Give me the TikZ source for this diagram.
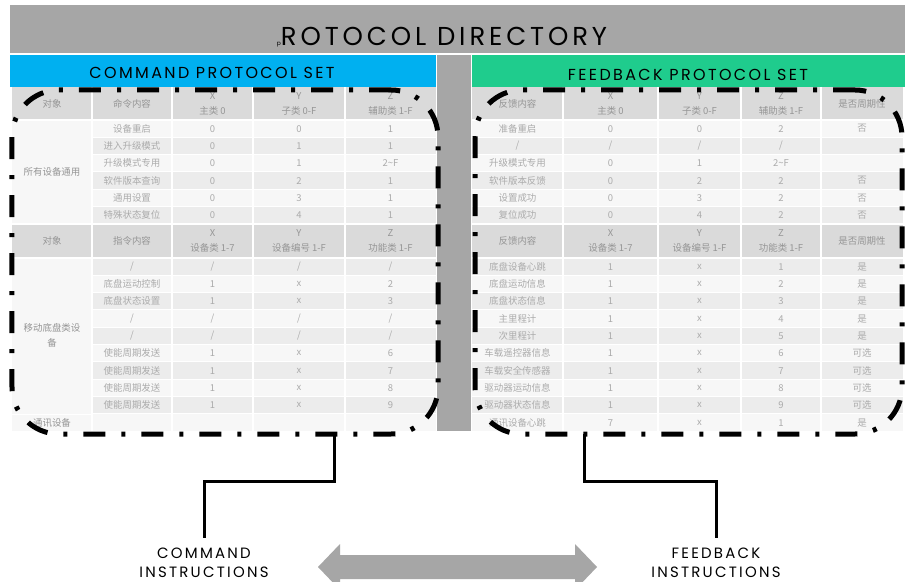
\documentclass[tikz,border=0pt]{standalone}
\usepackage{fontspec}
\setmainfont{Poppins}
\newfontfamily\widefont[LetterSpace = 15]{Poppins}
\newfontfamily\cjk{Noto Sans CJK SC}

\definecolor{bargray}{HTML}{A6A6A6}
\definecolor{cmdblue}{HTML}{00B0F0}
\definecolor{fbkgreen}{HTML}{1FCC8D}
\definecolor{headgray}{HTML}{DADADA}
\definecolor{rowlight}{HTML}{F7F7F7}
\definecolor{rowdark}{HTML}{ECECEC}
\definecolor{celltext}{HTML}{ABABAB}
\definecolor{headtext}{HTML}{959595}

\newcommand\slashmark{/}

\tikzset{
	cell/.style = {font = \cjk\fontsize{9.5}{10}\selectfont, text = celltext, inner sep = 0pt},
	headcell/.style = {font = \cjk\fontsize{9.5}{15}\selectfont, text = headtext, align = center, inner sep = 0pt},
	zone/.style = {draw = black, line width = 5bp, rounded corners = 47bp, dash pattern = on 22bp off 16bp on 4bp off 16bp},
	link/.style = {draw = black, line width = 3bp},
	bottomlabel/.style = {font = \widefont\fontsize{15}{19}\selectfont, align = center, inner sep = 0pt, outer ysep = 10bp, anchor = north},
	gridline/.style = {draw = white, line width = 2bp}
}

\begin{document}
\begin{tikzpicture}[x = 1bp, y = -1bp]
	\useasboundingbox [fill = white] (0, 0) rectangle (905, 582);

	\fill [bargray] (10, 5) rectangle (905, 53);
	\fill [cmdblue] (10, 55) rectangle (436, 87);
	\fill [bargray] (437, 55) rectangle (471, 431);
	\fill [fbkgreen] (472, 55) rectangle (905, 87);

	\node [font = \widefont\fontsize{26}{26}\selectfont, anchor = base] (title) at (442, 46) {{\fontsize{6}{6}\selectfont p}ROTOCOL DIRECTORY};
	\node [font = \widefont\fontsize{16}{16}\selectfont] (cmdhead) at (212, 73) {COMMAND PROTOCOL SET};
	\node [font = \widefont\fontsize{16}{16}\selectfont] (fbkhead) at (688, 75) {FEEDBACK PROTOCOL SET};

	% command table
	\fill [headgray] (12, 87) rectangle (436, 120);
	\fill [headgray] (12, 224) rectangle (436, 258);
	\foreach \i in {0, ..., 5} {
		\ifodd\i \def\rowfill{rowdark}\else \def\rowfill{rowlight}\fi
		\fill [\rowfill] (12, {120 + 17.33 * \i}) rectangle (436, {137.33 + 17.33 * \i});
	}
	\foreach \i in {0, ..., 9} {
		\ifodd\i \def\rowfill{rowlight}\else \def\rowfill{rowdark}\fi
		\fill [\rowfill] (12, {258 + 17.33 * \i}) rectangle (436, {275.33 + 17.33 * \i});
	}
	\fill [rowlight] (12, 120) rectangle (92, 224);
	\fill [rowlight] (12, 258) rectangle (92, 414);
	\foreach \i in {1, ..., 5}
		\draw [draw = white, line width = 1bp] (92, {120 + 17.33 * \i}) -- (436, {120 + 17.33 * \i});
	\foreach \i in {1, ..., 9}
		\draw [draw = white, line width = 1bp] (92, {258 + 17.33 * \i}) -- (436, {258 + 17.33 * \i});
	\draw [draw = white, line width = 1bp] (12, 414) -- (92, 414);
	\foreach \cx in {92, 172, 253, 345}
		\draw [gridline] (\cx, 87) -- (\cx, 431);
	\foreach \ry in {120, 224, 258}
		\draw [gridline] (12, \ry) -- (436, \ry);

	\node [headcell] (ch-a) at (52, 103.5) {对象};
	\node [headcell] (ch-b) at (132, 103.5) {命令内容};
	\node [headcell] (ch-x) at (212.5, 103.5) {X\\主类 0};
	\node [headcell] (ch-y) at (299, 103.5) {Y\\子类 0-F};
	\node [headcell] (ch-z) at (390.5, 103.5) {Z\\辅助类 1-F};
	\node [headcell] (cg-a) at (52, 241) {对象};
	\node [headcell] (cg-b) at (132, 241) {指令内容};
	\node [headcell] (cg-x) at (212.5, 241) {X\\设备类 1-7};
	\node [headcell] (cg-y) at (299, 241) {Y\\设备编号 1-F};
	\node [headcell] (cg-z) at (390.5, 241) {Z\\功能类 1-F};

	\node [headcell] (cmd-all) at (52, 172) {所有设备通用};
	\node [headcell] (cmd-base) at (52, 335) {移动底盘类设\\备};
	\node [headcell] (cmd-comm) at (52, 422.5) {通讯设备};

	\foreach \cmd/\vx/\vy/\vz [count = \i from 0] in {设备重启/0/0/1, 进入升级模式/0/1/1, 升级模式专用/0/1/2\textasciitilde F, 软件版本查询/0/2/1, 通用设置/0/3/1, 特殊状态复位/0/4/1} {
		\node [cell] (ct-\i-c) at (132, {128.67 + 17.33 * \i}) {\cmd};
		\node [cell] (ct-\i-x) at (212.5, {128.67 + 17.33 * \i}) {\vx};
		\node [cell] (ct-\i-y) at (299, {128.67 + 17.33 * \i}) {\vy};
		\node [cell] (ct-\i-z) at (390.5, {128.67 + 17.33 * \i}) {\vz};
	}
	\foreach \cmd/\vx/\vy/\vz [count = \i from 0] in {\slashmark/\slashmark/\slashmark/\slashmark, 底盘运动控制/1/x/2, 底盘状态设置/1/x/3, \slashmark/\slashmark/\slashmark/\slashmark, \slashmark/\slashmark/\slashmark/\slashmark, 使能周期发送/1/x/6, 使能周期发送/1/x/7, 使能周期发送/1/x/8, 使能周期发送/1/x/9} {
		\node [cell] (cb-\i-c) at (132, {266.67 + 17.33 * \i}) {\cmd};
		\node [cell] (cb-\i-x) at (212.5, {266.67 + 17.33 * \i}) {\vx};
		\node [cell] (cb-\i-y) at (299, {266.67 + 17.33 * \i}) {\vy};
		\node [cell] (cb-\i-z) at (390.5, {266.67 + 17.33 * \i}) {\vz};
	}

	% feedback table
	\fill [headgray] (472, 87) rectangle (903, 120);
	\fill [headgray] (472, 224) rectangle (903, 258);
	\foreach \i in {0, ..., 5} {
		\ifodd\i \def\rowfill{rowdark}\else \def\rowfill{rowlight}\fi
		\fill [\rowfill] (472, {120 + 17.33 * \i}) rectangle (903, {137.33 + 17.33 * \i});
	}
	\foreach \i in {0, ..., 9} {
		\ifodd\i \def\rowfill{rowlight}\else \def\rowfill{rowdark}\fi
		\fill [\rowfill] (472, {258 + 17.33 * \i}) rectangle (903, {275.33 + 17.33 * \i});
	}
	\foreach \i in {1, ..., 5}
		\draw [draw = white, line width = 1bp] (472, {120 + 17.33 * \i}) -- (903, {120 + 17.33 * \i});
	\foreach \i in {1, ..., 9}
		\draw [draw = white, line width = 1bp] (472, {258 + 17.33 * \i}) -- (903, {258 + 17.33 * \i});
	\foreach \cx in {563, 658, 741, 821}
		\draw [gridline] (\cx, 87) -- (\cx, 431);
	\foreach \ry in {120, 224, 258}
		\draw [gridline] (472, \ry) -- (903, \ry);

	\node [headcell] (fh-b) at (517.5, 103.5) {反馈内容};
	\node [headcell] (fh-x) at (610.5, 103.5) {X\\主类 0};
	\node [headcell] (fh-y) at (699.5, 103.5) {Y\\子类 0-F};
	\node [headcell] (fh-z) at (781, 103.5) {Z\\辅助类 1-F};
	\node [headcell] (fh-p) at (862, 103.5) {是否周期性};
	\node [headcell] (fg-b) at (517.5, 241) {反馈内容};
	\node [headcell] (fg-x) at (610.5, 241) {X\\设备类 1-7};
	\node [headcell] (fg-y) at (699.5, 241) {Y\\设备编号 1-F};
	\node [headcell] (fg-z) at (781, 241) {Z\\功能类 1-F};
	\node [headcell] (fg-p) at (862, 241) {是否周期性};

	\foreach \fb/\vx/\vy/\vz/\per [count = \i from 0] in {准备重启/0/0/2/否, \slashmark/\slashmark/\slashmark/\slashmark/{}, 升级模式专用/0/1/2\textasciitilde F/{}, 软件版本反馈/0/2/2/否, 设置成功/0/3/2/否, 复位成功/0/4/2/否} {
		\node [cell] (ft-\i-c) at (517.5, {128.67 + 17.33 * \i}) {\fb};
		\node [cell] (ft-\i-x) at (610.5, {128.67 + 17.33 * \i}) {\vx};
		\node [cell] (ft-\i-y) at (699.5, {128.67 + 17.33 * \i}) {\vy};
		\node [cell] (ft-\i-z) at (781, {128.67 + 17.33 * \i}) {\vz};
		\node [cell] (ft-\i-p) at (862, {128.67 + 17.33 * \i}) {\per};
	}
	\foreach \fb/\vx/\vy/\vz/\per [count = \i from 0] in {底盘设备心跳/1/x/1/是, 底盘运动信息/1/x/2/是, 底盘状态信息/1/x/3/是, 主里程计/1/x/4/是, 次里程计/1/x/5/是, 车载遥控器信息/1/x/6/可选, 车载安全传感器/1/x/7/可选, 驱动器运动信息/1/x/8/可选, 驱动器状态信息/1/x/9/可选, 通讯设备心跳/7/x/1/是} {
		\node [cell] (fb-\i-c) at (517.5, {266.67 + 17.33 * \i}) {\fb};
		\node [cell] (fb-\i-x) at (610.5, {266.67 + 17.33 * \i}) {\vx};
		\node [cell] (fb-\i-y) at (699.5, {266.67 + 17.33 * \i}) {\vy};
		\node [cell] (fb-\i-z) at (781, {266.67 + 17.33 * \i}) {\vz};
		\node [cell] (fb-\i-p) at (862, {266.67 + 17.33 * \i}) {\per};
	}

	\node [zone, minimum width = 426bp, minimum height = 344bp] (cmdzone) at (225, 262) {};
	\node [zone, minimum width = 427bp, minimum height = 344bp] (fbkzone) at (688.5, 262) {};

	\coordinate (cmdtap) at (334, 434);
	\coordinate (fbktap) at (584, 434);

	\node [bottomlabel] (cmdlabel) at (204, 538) {COMMAND\\INSTRUCTIONS};
	\node [bottomlabel] (fbklabel) at (716, 538) {FEEDBACK\\INSTRUCTIONS};

	\draw [link] (cmdtap) -- ++(0, 47) -| (cmdlabel.north);
	\draw [link] (fbktap) -- ++(0, 47) -| (fbklabel.north);

	\fill [bargray] (318, 567) -- (340, 544) -- (340, 555) -- (575, 555) -- (575, 544) -- (597, 567) -- (575, 590) -- (575, 579) -- (340, 579) -- (340, 590) -- cycle;
\end{tikzpicture}
\end{document}
